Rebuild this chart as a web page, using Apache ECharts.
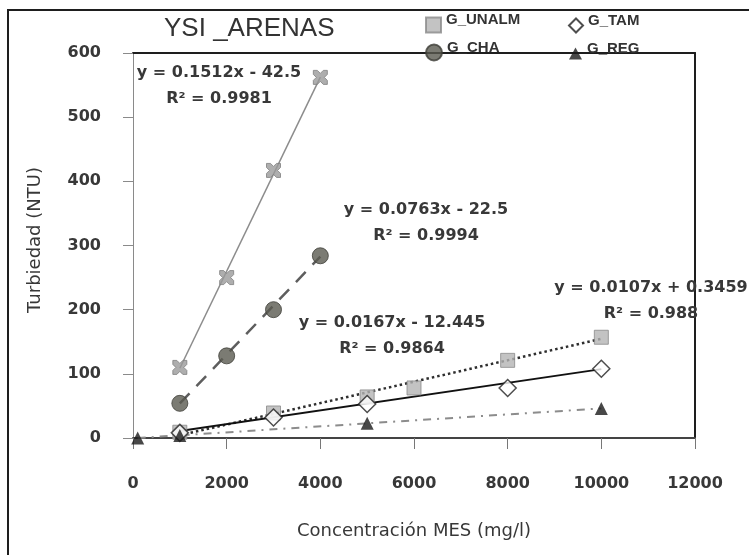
<!DOCTYPE html>
<html>
<head>
<meta charset="utf-8">
<script src="https://cdn.jsdelivr.net/npm/echarts@6/dist/echarts.min.js"></script>
<style>
  html, body { margin: 0; padding: 0; background: #fff; }
  #chart { width: 749px; height: 555px; }
</style>
</head>
<body>
<div id="chart"></div>
<script>
// Turbidity (NTU) against suspended solids concentration (mg/l)
const concTop = [1000, 2000, 3000, 4000];
const turbTop = [110, 250, 417, 562];

const concCha = [1000, 2000, 3000, 4000];
const turbCha = [54, 128, 200, 284];

const concUnalm = [1000, 3000, 5000, 6000, 8000, 10000];
const turbUnalm = [9, 39, 64, 78, 121, 157];

const concTam = [1000, 3000, 5000, 8000, 10000];
const turbTam = [8, 32, 53, 78, 108];

const concReg = [100, 1000, 5000, 10000];
const turbReg = [0, 4, 23, 46];

// Linear trend lines: slope, intercept, R², fitted x-range
const fitSlopes = [0.1512, 0.0763, 0.0167, 0.0107];
const fitIntercepts = [-42.5, -22.5, -12.445, 0.3459];
const fitR2 = ['0.9981', '0.9994', '0.9864', '0.988'];
const fitFrom = [1000, 1000, 1000, 1000];
const fitTo = [4000, 4000, 10000, 10000];

const xTickStep = 2000, xMax = 12000;
const yTickStep = 100, yMax = 600;

const pairs = (xs, ys) => xs.map((x, i) => [x, ys[i]]);
const fitLine = (k) => [
  [fitFrom[k], fitSlopes[k] * fitFrom[k] + fitIntercepts[k]],
  [fitTo[k], fitSlopes[k] * fitTo[k] + fitIntercepts[k]]
];
function leastSquares(xs, ys) {
  const n = xs.length;
  const mx = xs.reduce((a, b) => a + b, 0) / n;
  const my = ys.reduce((a, b) => a + b, 0) / n;
  let sxy = 0, sxx = 0;
  xs.forEach((x, i) => { sxy += (x - mx) * (ys[i] - my); sxx += (x - mx) * (x - mx); });
  const b = sxy / sxx;
  return { b, a: my - b * mx };
}
const regFit = leastSquares(concReg, turbReg);
const regLine = [
  [concReg[0], regFit.a + regFit.b * concReg[0]],
  [concReg[concReg.length - 1], regFit.a + regFit.b * concReg[concReg.length - 1]]
];

const eqText = (k) => {
  const b = fitIntercepts[k];
  return 'y = ' + fitSlopes[k] + 'x ' + (b < 0 ? '- ' : '+ ') + Math.abs(b);
};
// centre of each equation block
const eqPos = [[219, 73], [426, 210], [392, 323], [651, 288]];

const NUM_FONT = 'DejaVu Sans';
const TXT = '#383838';

const crossPath = 'path://M0,0 L4,0 L7,3 L10,0 L14,0 L14,4 L11,7 L14,10 L14,14 L10,14 L7,11 L4,14 L0,14 L0,10 L3,7 L0,4 Z';

const graphics = [
  { type: 'rect', silent: true, z: 0,
    shape: { x: 8, y: 10, width: 780, height: 580 },
    style: { fill: 'none', stroke: '#1e1e1e', lineWidth: 2 } },
  { type: 'text', x: 414, y: 531,
    style: { text: 'Concentración MES (mg/l)', font: '18px "DejaVu Sans"', fill: TXT,
             textAlign: 'center', textVerticalAlign: 'middle' } },
  { type: 'text', x: 35, y: 240, rotation: Math.PI / 2,
    style: { text: 'Turbiedad (NTU)', font: '18px "DejaVu Sans"', fill: TXT,
             textAlign: 'center', textVerticalAlign: 'middle' } }
];
fitSlopes.forEach((s, k) => {
  graphics.push({ type: 'text', x: eqPos[k][0], y: eqPos[k][1], z: 10,
    style: { text: eqText(k), font: 'bold 16px "DejaVu Sans"', fill: TXT,
             textAlign: 'center', textVerticalAlign: 'middle' } });
  graphics.push({ type: 'text', x: eqPos[k][0], y: eqPos[k][1] + 26, z: 10,
    style: { text: 'R² = ' + fitR2[k], font: 'bold 16px "DejaVu Sans"', fill: TXT,
             textAlign: 'center', textVerticalAlign: 'middle' } });
});

// legend labels sit a little above their symbols: an empty second line lifts them
const legendText = { fontFamily: 'Liberation Sans', fontWeight: 'bold', fontSize: 15, lineHeight: 10, color: '#333' };
const legendBase = {
  padding: 0, itemGap: 0, itemWidth: 15, itemHeight: 15, textStyle: legendText,
  selectedMode: false, formatter: (name) => name + '\n'
};

const lineSeries = (name, data, style) => ({
  name, type: 'line', data, symbol: 'none', silent: true,
  lineStyle: style, z: 2, animation: false
});

const plainNumber = (v) => String(v);

const option = {
  animation: false,
  backgroundColor: '#fff',
  title: {
    text: 'YSI _ARENAS', left: 164, top: 16, padding: 0,
    textStyle: { fontFamily: 'Liberation Sans', fontWeight: 'normal', fontSize: 26, color: '#333' }
  },
  legend: [
    Object.assign({}, legendBase, { data: ['G_UNALM'], left: 425, top: 12.5 }),
    Object.assign({}, legendBase, { data: ['G_TAM'], left: 568, top: 13, itemWidth: 14, itemHeight: 14 }),
    Object.assign({}, legendBase, { data: ['G_CHA'], left: 425, top: 40, itemWidth: 16, itemHeight: 16 }),
    Object.assign({}, legendBase, { data: ['G_REG'], left: 569, top: 41, itemWidth: 13, itemHeight: 12 })
  ],
  grid: { left: 133, right: 54, top: 53, bottom: 117, containLabel: false },
  xAxis: [
    {
      type: 'value', min: 0, max: xMax, interval: xTickStep, position: 'bottom',
      axisLine: { show: true, onZero: false, lineStyle: { color: '#444', width: 2 } },
      axisTick: { show: true, inside: false, length: 11, lineStyle: { color: '#777' } },
      axisLabel: { margin: 38, fontFamily: NUM_FONT, fontWeight: 'bold', fontSize: 16, color: TXT,
                   formatter: plainNumber },
      splitLine: { show: false }
    },
    {
      type: 'value', min: 0, max: xMax, position: 'top',
      axisLine: { show: true, onZero: false, lineStyle: { color: '#1e1e1e', width: 2 } },
      axisTick: { show: false }, axisLabel: { show: false }, splitLine: { show: false }
    }
  ],
  yAxis: [
    {
      type: 'value', min: 0, max: yMax, interval: yTickStep, position: 'left',
      axisLine: { show: true, onZero: false, lineStyle: { color: '#8a8a8a', width: 1 } },
      axisTick: { show: true, inside: false, length: 10, lineStyle: { color: '#8a8a8a' } },
      axisLabel: { margin: 32, fontFamily: NUM_FONT, fontWeight: 'bold', fontSize: 16, color: TXT,
                   formatter: plainNumber },
      splitLine: { show: false }
    },
    {
      type: 'value', min: 0, max: yMax, position: 'right',
      axisLine: { show: true, onZero: false, lineStyle: { color: '#1e1e1e', width: 2 } },
      axisTick: { show: false }, axisLabel: { show: false }, splitLine: { show: false }
    }
  ],
  series: [
    lineSeries('ajuste_sup', fitLine(0), { color: '#8c8c8c', width: 1.5, type: 'solid' }),
    lineSeries('ajuste_cha', fitLine(1), { color: '#5e5e5e', width: 2.5, type: [14, 10] }),
    lineSeries('ajuste_unalm', fitLine(2), { color: '#2e2e2e', width: 2.5, type: [2.5, 3] }),
    lineSeries('ajuste_tam', fitLine(3), { color: '#111', width: 2, type: 'solid' }),
    lineSeries('ajuste_reg', regLine, { color: '#8c8c8c', width: 2, type: [8, 6, 2, 6] }),
    {
      name: 'G_SUP', type: 'scatter', data: pairs(concTop, turbTop),
      symbol: crossPath, symbolSize: 14, z: 5,
      itemStyle: { color: '#9a9a9a', borderColor: '#808080', borderWidth: 1 }
    },
    {
      name: 'G_CHA', type: 'scatter', data: pairs(concCha, turbCha),
      symbol: 'circle', symbolSize: 16, z: 5,
      itemStyle: { color: '#5a5a50', borderColor: '#3e3e38', borderWidth: 1 }
    },
    {
      name: 'G_UNALM', type: 'scatter', data: pairs(concUnalm, turbUnalm),
      symbol: 'rect', symbolSize: 14, z: 5,
      itemStyle: { color: '#b4b4b4', borderColor: '#8a8a8a', borderWidth: 1 }
    },
    {
      name: 'G_TAM', type: 'scatter', data: pairs(concTam, turbTam),
      symbol: 'diamond', symbolSize: 17, z: 6,
      itemStyle: { color: '#fff', borderColor: '#222', borderWidth: 1.5 }
    },
    {
      name: 'G_REG', type: 'scatter', data: pairs(concReg, turbReg),
      symbol: 'triangle', symbolSize: 13, z: 6,
      itemStyle: { color: '#1a1a1a', borderColor: '#1a1a1a', borderWidth: 0 }
    }
  ],
  graphic: graphics
};

const chart = echarts.init(document.getElementById('chart'), null, { renderer: 'canvas' });
chart.setOption(option);
</script>
</body>
</html>
